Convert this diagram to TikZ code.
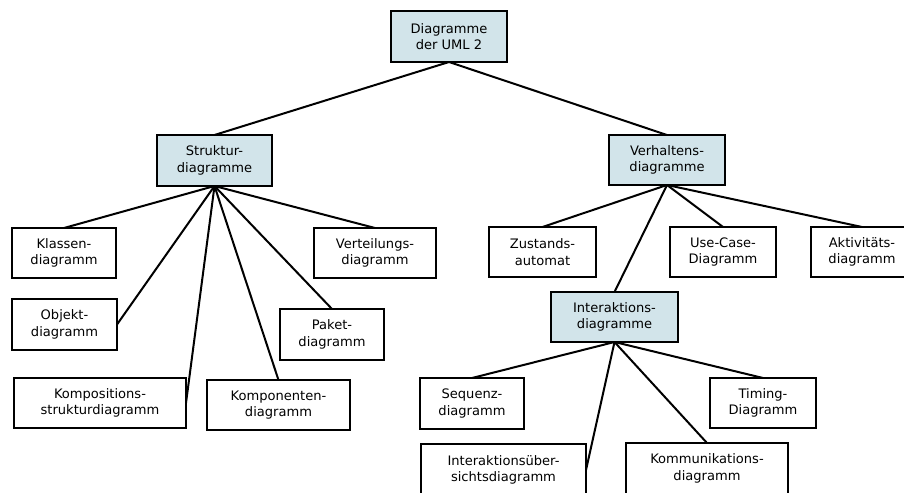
\documentclass[tikz,border=0pt]{standalone}
\usepackage{fontspec}
\setmainfont{DejaVu Sans}
\definecolor{groupfill}{RGB}{210,228,234}
\tikzset{
  umlbase/.style={draw=black, line width=1.5pt, rectangle, align=center,
    font=\fontsize{9.8pt}{12.2pt}\selectfont, inner sep=0pt, outer sep=0pt},
  groupbox/.style={umlbase, fill=groupfill},
  leafbox/.style={umlbase, fill=white},
  link/.style={line width=1.5pt, black}
}
% \umlbox{name}{left}{top}{right}{bottom}{text}{style}, coordinates in pixels
\newcommand\umlbox[7]{%
  \node[#7, minimum width={(#4-#2-2)*0.75pt}, minimum height={(#5-#3-2)*0.75pt}]
    (#1) at ({(#2+#4)/2},{(#3+#5)/2}) {#6};}
\begin{document}
\begin{tikzpicture}[x=0.75pt, y=-0.75pt]
  \useasboundingbox (0,0) rectangle (904,493);
  \clip (0,0) rectangle (904,493);
  \fill[white] (0,0) rectangle (904,493);

  % root and the two main groups
  \umlbox{root}{390}{10}{508}{63}{Diagramme\\der UML 2}{groupbox}
  \umlbox{struct}{156}{134}{273}{187}{Struktur-\\diagramme}{groupbox}
  \umlbox{behav}{608}{134}{726}{186}{Verhaltens-\\diagramme}{groupbox}

  % structure diagrams
  \umlbox{klassen}{11}{227}{117}{279}{Klassen-\\diagramm}{leafbox}
  \umlbox{verteil}{313}{227}{437}{279}{Verteilungs-\\diagramm}{leafbox}
  \umlbox{objekt}{11}{298}{118}{351}{Objekt-\\diagramm}{leafbox}
  \umlbox{paket}{279}{308}{385}{361}{Paket-\\diagramm}{leafbox}
  \umlbox{kompos}{13}{377}{187}{429}{Kompositions-\\strukturdiagramm}{leafbox}
  \umlbox{kompon}{206}{379}{351}{431}{Komponenten-\\diagramm}{leafbox}

  % behaviour diagrams
  \umlbox{zustand}{488}{226}{597}{278}{Zustands-\\automat}{leafbox}
  \umlbox{usecase}{669}{226}{777}{278}{Use-Case-\\Diagramm}{leafbox}
  \umlbox{aktiv}{810}{226}{914}{278}{Aktivitäts-\\diagramm}{leafbox}
  \umlbox{inter}{550}{291}{679}{343}{Interaktions-\\diagramme}{groupbox}

  % interaction diagrams
  \umlbox{sequenz}{419}{377}{525}{430}{Sequenz-\\diagramm}{leafbox}
  \umlbox{timing}{709}{377}{817}{429}{Timing-\\Diagramm}{leafbox}
  \umlbox{uebersicht}{420}{443}{587}{497}{Interaktionsüber-\\sichtsdiagramm}{leafbox}
  \umlbox{kommun}{625}{442}{789}{495}{Kommunikations-\\diagramm}{leafbox}

  % connectors
  \draw[link] (root.south) -- (struct.north);
  \draw[link] (root.south) -- (behav.north);

  \draw[link] (struct.south) -- (klassen.north);
  \draw[link] (struct.south) -- (verteil.north);
  \draw[link] (struct.south) -- (objekt.east);
  \draw[link] (struct.south) -- (paket.north);
  \draw[link] (struct.south) -- (kompos.east);
  \draw[link] (struct.south) -- (kompon.north);

  \draw[link] (behav.south) -- (zustand.north);
  \draw[link] (behav.south) -- (usecase.north);
  \draw[link] (behav.south) -- (aktiv.north);
  \draw[link] (behav.south) -- (inter.north);

  \draw[link] (inter.south) -- (sequenz.north);
  \draw[link] (inter.south) -- (timing.north);
  \draw[link] (inter.south) -- (uebersicht.east);
  \draw[link] (inter.south) -- (kommun.north);
\end{tikzpicture}
\end{document}
